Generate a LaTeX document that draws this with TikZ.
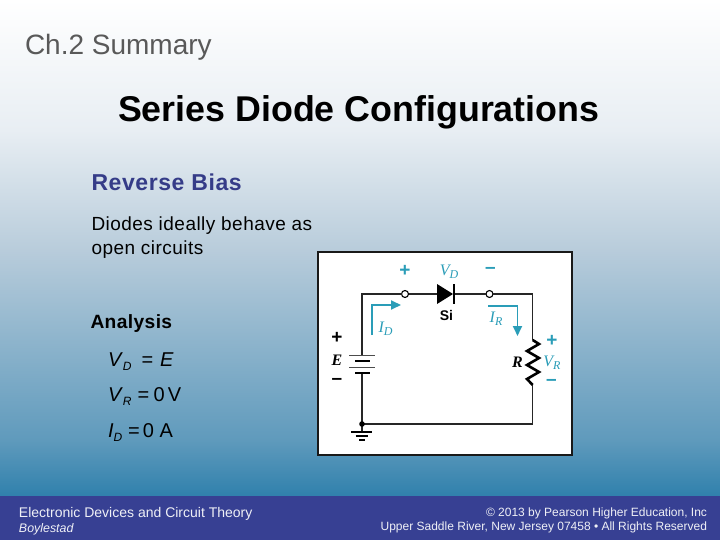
\documentclass[tikz,border=0pt]{standalone}
\usepackage{fontspec}
\setmainfont{Liberation Sans}
\newfontfamily\serifit[Ligatures=TeX]{Liberation Serif}
\usetikzlibrary{arrows.meta}
\definecolor{bga}{HTML}{FFFFFF}
\definecolor{bgb}{HTML}{E8EEF3}
\definecolor{bgmid}{HTML}{B8CCDB}
\definecolor{bgc}{HTML}{5F9ABC}
\definecolor{bgbot}{HTML}{2F80AC}
\definecolor{barblue}{HTML}{374093}
\definecolor{headblue}{HTML}{353C88}
\definecolor{cyanlab}{HTML}{2A9DB8}
\tikzset{
  every node/.style={inner sep=0pt,outer sep=0pt},
  txt/.style={anchor=base west,font=\fontsize{#1}{#1}\selectfont},
  txt/.default=18,
  wire/.style={line width=1.2pt,black!85},
  term/.style={circle,draw=black,line width=1.1pt,fill=white,minimum size=7pt},
  cur/.style={line width=1.8pt,cyanlab,-{Triangle[length=10pt,width=9pt]}},
  clab/.style={text=cyanlab,font=\fontsize{12}{12}\selectfont\serifit\itshape},
  sign/.style={font=\fontsize{19}{19}\selectfont\bfseries},
  foot/.style={text=white!92!barblue}
}
\newcommand{\subl}[1]{\raisebox{-4pt}{\fontsize{12}{12}\selectfont\textit{#1}}}
\newcommand{\csub}[2]{\fontsize{16}{16}\selectfont\textit{#1}\raisebox{-3pt}{\fontsize{12}{12}\selectfont\textit{#2}}}
\newcommand{\spaced}[1]{\addfontfeature{LetterSpace=#1}}
\begin{document}
\begin{tikzpicture}[x=1pt,y=-1pt]
\useasboundingbox (0,0) rectangle (720,540);
\fill[top color=bga,bottom color=bgb] (0,0) rectangle (720,130.5);
\fill[top color=bgb,bottom color=bgmid] (0,130) rectangle (720,250.5);
\fill[top color=bgmid,bottom color=bgc] (0,250) rectangle (720,440.5);
\fill[top color=bgc,bottom color=bgbot] (0,440) rectangle (720,497);
\fill[barblue] (0,496) rectangle (720,540);
% texts
\node[txt=28,text=black!65] (ch) at (25,54.5) {Ch.2 Summary};
\node[anchor=base west,font=\fontsize{35.8}{35.8}\selectfont\bfseries] (title) at (118,122) {Series Diode Configurations};
\node[anchor=base west,text=headblue,font=\fontsize{23}{23}\selectfont\bfseries\spaced{2.5}] (rb) at (91.5,190.5) {Reverse Bias};
\node[anchor=base west,font=\fontsize{19}{19}\selectfont\spaced{2.5}] (d1) at (91.5,230.5) {Diodes ideally behave as};
\node[anchor=base west,font=\fontsize{19}{19}\selectfont\spaced{2.5}] (d2) at (91.5,254.5) {open circuits};
\node[anchor=base west,font=\fontsize{19.2}{19.2}\selectfont\bfseries\spaced{2}] (an) at (90.5,328.5) {Analysis};
\node[txt=20] (vd) at (108,366) {\textit{V}\subl{D}\hspace{10pt}=\hspace{7pt}\textit{E}};
\node[txt=20] (vr) at (108,401) {\textit{V}\subl{R}\hspace{6pt}=\hspace{4.5pt}0\hspace{3pt}V};
\node[txt=20] (id) at (108,437) {\textit{I}\subl{D}\hspace{6pt}=\hspace{3pt}0\hspace{5.5pt}A};
\node[txt=14,foot] (f1) at (19,517) {Electronic Devices and Circuit Theory};
\node[anchor=base west,foot,font=\fontsize{12.4}{12.4}\selectfont\itshape] (f2) at (19,532) {Boylestad};
\node[anchor=base east,foot,font=\fontsize{12}{12}\selectfont] (f3) at (707,516) {© 2013 by Pearson Higher Education, Inc};
\node[anchor=base east,foot,font=\fontsize{12}{12}\selectfont] (f4) at (707,530) {Upper Saddle River, New Jersey 07458 • All Rights Reserved};
% circuit box
\node[draw=black!90,line width=1.8pt,fill=white,minimum width=254pt,minimum height=203pt] (box) at (445,353.5) {};
\coordinate (tl) at (362,294);
\coordinate (tr) at (532.7,294);
\coordinate (br) at (532.7,424);
\coordinate (rtop) at (532.7,340);
\coordinate (rbot) at (532.7,385);
\coordinate (b1) at (362,355);
\coordinate (b2) at (362,373);
\coordinate (gnd) at (362,424);
\coordinate (dl) at (437,294);
\coordinate (dr) at (455,294);
\node[term] (t1) at (405,294) {};
\node[term] (t2) at (489.5,294) {};
% wires
\draw[wire] (b1) -- (tl) -- (t1);
\draw[wire] (t1) -- (dl);
\draw[wire] (dr) -- (t2);
\draw[wire] (t2) -- (tr) -- (rtop);
\draw[wire] (rbot) -- (br) -- (gnd);
\draw[wire] (b2) -- (gnd);
\draw[wire] (gnd) -- ++(0,8);
% diode
\fill[black] (dl) ++(0,-10) -- ++(16,10) -- ++(-16,10) -- cycle;
\draw[black,line width=2.6pt] (453.8,284) -- (453.8,304);
% resistor
\draw[black,line width=2.6pt,line join=miter] (rtop) -- (539,344) -- (527,351) -- (539,358) -- (527,365) -- (539,372) -- (527,379) -- (rbot);
% battery
\draw[black!70,line width=1pt] (349,355) -- (374.5,355);
\draw[black!70,line width=1pt] (349,367) -- (374.5,367);
\draw[black,line width=2.6pt] (355,361) -- (369.5,361);
\draw[black,line width=2.6pt] (355,373) -- (369.5,373);
% ground
\fill[black] (gnd) circle (2.8pt);
\draw[black,line width=2pt] (351,432) -- (372,432);
\draw[black,line width=2pt] (355.5,436) -- (367.5,436);
\draw[black,line width=2.4pt] (359,440) -- (365,440);
% current arrows
\coordinate (ia) at (372,335); \coordinate (ib) at (372,305); \coordinate (ic) at (401,305);
\coordinate (ra) at (488,306); \coordinate (rb2) at (517.5,306); \coordinate (rc) at (517.5,336);
\draw[cur] (ia) -- (ib) -- (ic);
\draw[cur] (ra) -- (rb2) -- (rc);
% labels
\node[clab] (lid) at (385.5,329) {\csub{I}{D}};
\node[clab] (lir) at (496,319) {\csub{I}{R}};
\node[clab] (lvd) at (449,271.5) {\csub{V}{D}};
\node[clab] (lvr) at (552,363) {\csub{V}{R}};
\node[sign,text=cyanlab] (p1) at (405,271) {+};
\node[sign,text=cyanlab] (m1) at (490.5,270.5) {\textbf{–}};
\node[sign,text=cyanlab] (p2) at (552,341) {+};
\node[sign,text=cyanlab] (m2) at (551.5,382) {\textbf{–}};
\node[sign] (p3) at (337,338) {+};
\node[sign] (m3) at (337,381) {\textbf{–}};
\node[font=\fontsize{16}{16}\selectfont\serifit\itshape\bfseries] (le) at (337,360) {E};
\node[font=\fontsize{16}{16}\selectfont\serifit\itshape\bfseries] (lr) at (517.5,362) {R};
\node[font=\fontsize{14}{14}\selectfont\bfseries] (si) at (446.5,315) {Si};
\end{tikzpicture}
\end{document}
